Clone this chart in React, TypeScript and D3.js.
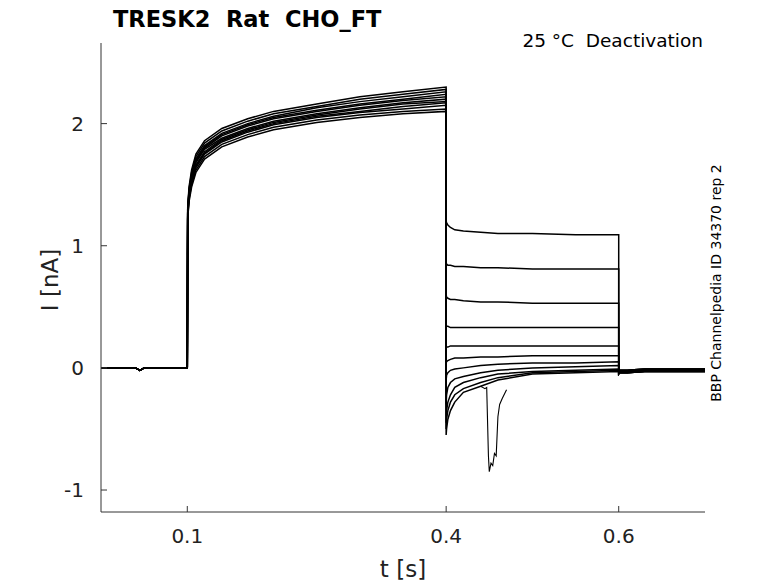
import React from "react";
import * as d3 from "d3";

const baseTimes = [0, 0.04, 0.045, 0.05, 0.1];
const baseCurrents = [0, 0, -0.02, 0, 0];

const actTimes = [0.1, 0.1005, 0.102, 0.105, 0.11, 0.12, 0.14, 0.17, 0.2, 0.25, 0.3, 0.35, 0.4];
const actCurrents = [
  [0, 1.32, 1.48, 1.62, 1.75, 1.86, 1.96, 2.04, 2.1, 2.16, 2.22, 2.26, 2.3],
  [0, 1.3, 1.46, 1.6, 1.73, 1.84, 1.94, 2.02, 2.08, 2.14, 2.2, 2.24, 2.28],
  [0, 1.3, 1.45, 1.58, 1.71, 1.82, 1.92, 2.0, 2.06, 2.13, 2.18, 2.22, 2.26],
  [0, 1.28, 1.44, 1.57, 1.7, 1.81, 1.91, 1.99, 2.05, 2.11, 2.16, 2.2, 2.24],
  [0, 1.28, 1.43, 1.56, 1.69, 1.8, 1.9, 1.98, 2.04, 2.1, 2.15, 2.19, 2.22],
  [0, 1.27, 1.42, 1.55, 1.68, 1.79, 1.88, 1.96, 2.02, 2.08, 2.13, 2.17, 2.2],
  [0, 1.26, 1.41, 1.54, 1.66, 1.77, 1.87, 1.95, 2.01, 2.07, 2.12, 2.16, 2.18],
  [0, 1.25, 1.4, 1.53, 1.65, 1.76, 1.86, 1.94, 2.0, 2.06, 2.1, 2.14, 2.17],
  [0, 1.24, 1.39, 1.52, 1.64, 1.75, 1.85, 1.93, 1.99, 2.05, 2.09, 2.12, 2.15],
  [0, 1.23, 1.38, 1.5, 1.62, 1.73, 1.83, 1.91, 1.97, 2.03, 2.07, 2.1, 2.12],
  [0, 1.22, 1.36, 1.48, 1.6, 1.71, 1.81, 1.89, 1.95, 2.01, 2.05, 2.08, 2.1],
];

const tailTimes = [0.4, 0.4005, 0.402, 0.405, 0.41, 0.42, 0.44, 0.46, 0.5, 0.55, 0.6];
const tailCurrents = [
  [1.2, 1.19, 1.17, 1.15, 1.13, 1.12, 1.11, 1.1, 1.1, 1.09, 1.09],
  [0.86, 0.85, 0.84, 0.84, 0.83, 0.83, 0.82, 0.82, 0.81, 0.81, 0.81],
  [0.6, 0.58, 0.57, 0.56, 0.56, 0.55, 0.54, 0.54, 0.53, 0.53, 0.53],
  [0.35, 0.34, 0.34, 0.33, 0.33, 0.33, 0.33, 0.33, 0.33, 0.33, 0.33],
  [0.17, 0.17, 0.17, 0.18, 0.18, 0.18, 0.18, 0.18, 0.18, 0.18, 0.18],
  [0.04, 0.05, 0.06, 0.07, 0.08, 0.08, 0.09, 0.09, 0.1, 0.1, 0.1],
  [-0.1, -0.06, -0.04, -0.02, -0.01, 0.0, 0.02, 0.03, 0.04, 0.04, 0.05],
  [-0.3, -0.22, -0.16, -0.12, -0.09, -0.07, -0.04, -0.02, 0.0, 0.01, 0.02],
  [-0.45, -0.35, -0.28, -0.22, -0.16, -0.12, -0.08, -0.05, -0.03, -0.02, -0.01],
  [-0.5, -0.42, -0.35, -0.28, -0.22, -0.17, -0.12, -0.08, -0.04, -0.03, -0.02],
  [-0.55, -0.5, -0.42, -0.35, -0.28, -0.2, -0.15, -0.1, -0.05, -0.04, -0.03],
];

const spikeTimes = [0.44, 0.445, 0.447, 0.449, 0.45, 0.452, 0.454, 0.456, 0.458, 0.46, 0.462, 0.465, 0.47];
const spikeCurrents = [-0.15, -0.17, -0.16, -0.72, -0.85, -0.78, -0.8, -0.7, -0.72, -0.4, -0.3, -0.25, -0.18];

const postTimes = [0.6, 0.601, 0.61, 0.63, 0.66, 0.7];
const postCurrents = [-0.04, -0.03, -0.03, -0.02, -0.02, -0.02];

const xTicks = [0.1, 0.4, 0.6];
const yTicks = [-1, 0, 1, 2];

export default function App() {
  const W = 778, H = 583;
  const x = d3.scaleLinear().domain([0, 0.7]).range([101, 705]);
  const y = d3.scaleLinear().domain([-1.18, 2.66]).range([512, 43]);
  const line = d3.line<[number, number]>().x(d => x(d[0])).y(d => y(d[1]));
  const font = "DejaVu Sans, sans-serif";

  const traces = actCurrents.map((act, i) => {
    const pts: [number, number][] = [];
    baseTimes.forEach((t, k) => pts.push([t, baseCurrents[k]]));
    actTimes.forEach((t, k) => pts.push([t, act[k]]));
    tailTimes.forEach((t, k) => pts.push([t, tailCurrents[i][k]]));
    postTimes.forEach((t, k) => pts.push([t, postCurrents[k] + (i % 3 - 1) * 0.01]));
    return pts;
  });
  const spike: [number, number][] = spikeTimes.map((t, k) => [t, spikeCurrents[k]]);

  return (
    <svg width={W} height={H} style={{ position: "absolute", left: 0, top: 0, background: "#fff" }}>
      <rect width={W} height={H} fill="#fff" />
      {traces.map((p, i) => (
        <path key={i} d={line(p) || ""} fill="none" stroke="#000" strokeWidth={1.5} />
      ))}
      <path d={line(spike) || ""} fill="none" stroke="#000" strokeWidth={1.1} />
      <line x1={101} x2={101} y1={43} y2={512} stroke="#333" />
      <line x1={101} x2={705} y1={512} y2={512} stroke="#333" />
      {xTicks.map(t => (
        <g key={t}>
          <line x1={x(t)} x2={x(t)} y1={512} y2={506} stroke="#333" />
          <text x={x(t)} y={543} textAnchor="middle" fontFamily={font} fontSize={20} fill="#222">{t}</text>
        </g>
      ))}
      {yTicks.map(t => (
        <g key={t}>
          <line x1={101} x2={107} y1={y(t)} y2={y(t)} stroke="#333" />
          <text x={84} y={y(t) + 7} textAnchor="end" fontFamily={font} fontSize={20} fill="#222">{t}</text>
        </g>
      ))}
      <text x={403} y={577} textAnchor="middle" fontFamily={font} fontSize={23} fill="#222">t [s]</text>
      <text transform="translate(58,280) rotate(-90)" textAnchor="middle" fontFamily={font} fontSize={23} fill="#222">I [nA]</text>
      <text x={113} y={27} fontFamily={font} fontSize={22.5} fontWeight="bold" fill="#000" style={{ whiteSpace: "pre" }}>TRESK2  Rat  CHO_FT</text>
      <text x={703} y={47} textAnchor="end" fontFamily={font} fontSize={18.5} fill="#000" style={{ whiteSpace: "pre" }}>25 °C  Deactivation</text>
      <text transform="translate(721,283) rotate(-90)" textAnchor="middle" fontFamily={font} fontSize={14} fill="#000">BBP Channelpedia ID 34370 rep 2</text>
    </svg>
  );
}
